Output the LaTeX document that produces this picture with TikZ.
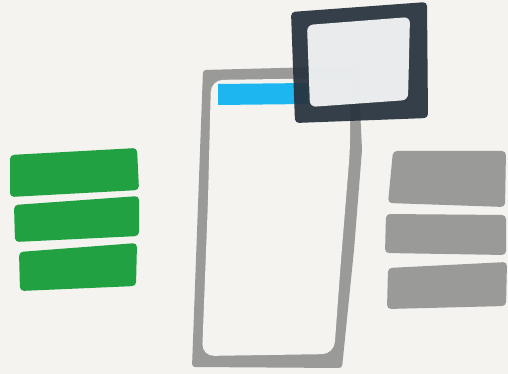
\documentclass[tikz,border=0pt]{standalone}
\usepackage{tikz}
\usepackage{xcolor}
\definecolor{paper}{HTML}{F4F3EF}
\definecolor{leafgreen}{HTML}{21A142}
\definecolor{slate}{HTML}{9A9A99}
\definecolor{navy}{HTML}{26323D}
\definecolor{screen}{HTML}{EFF1F2}
\definecolor{skyblue}{HTML}{1DB6F1}

\begin{document}
\begin{tikzpicture}[
  x=1pt, y=-1pt,
  greenbar/.style={fill=leafgreen, rounded corners=4pt},
  graybar/.style={fill=slate, rounded corners=4pt},
  frame/.style={fill=slate, rounded corners=3pt},
  window/.style={fill=navy, opacity=0.93, rounded corners=4pt}
]
\fill[paper] (0,0) rectangle (508,374);
\useasboundingbox (0,0) rectangle (508,374);

% left list
\fill[greenbar] (10,155) -- (137,148) -- (139,190) -- (10,197) -- cycle;
\fill[greenbar] (14,205) -- (139,196) -- (139,236) -- (15,242) -- cycle;
\fill[greenbar] (19,252) -- (137,243) -- (136,286) -- (20,291) -- cycle;

% right list
\fill[graybar] (393,151) -- (506,151) -- (505,207) -- (388,203) -- cycle;
\fill[graybar] (386,214) -- (506,215) -- (506,255) -- (385,253) -- cycle;
\fill[graybar] (388,268) -- (507,262) -- (506,306) -- (387,309) -- cycle;

% phone
\fill[frame] (203,70) -- (358,66) -- (362,150) -- (354,250) -- (342,368) -- (192,367) -- cycle;
\fill[paper, rounded corners=12pt] (211,80) -- (350,78) -- (350,150) -- (341,260) -- (334,354) -- (202,356) -- (208,200) -- cycle;
\fill[skyblue] (218,84) -- (308,83) -- (308,104) -- (218,105) -- cycle;

% popup
\fill[window] (291,12) -- (427,2) -- (428,118) -- (295,123) -- cycle;
\fill[screen, opacity=0.97, rounded corners=6pt] (307,25) -- (410,17) -- (408,100) -- (310,107) -- cycle;
\end{tikzpicture}
\end{document}
